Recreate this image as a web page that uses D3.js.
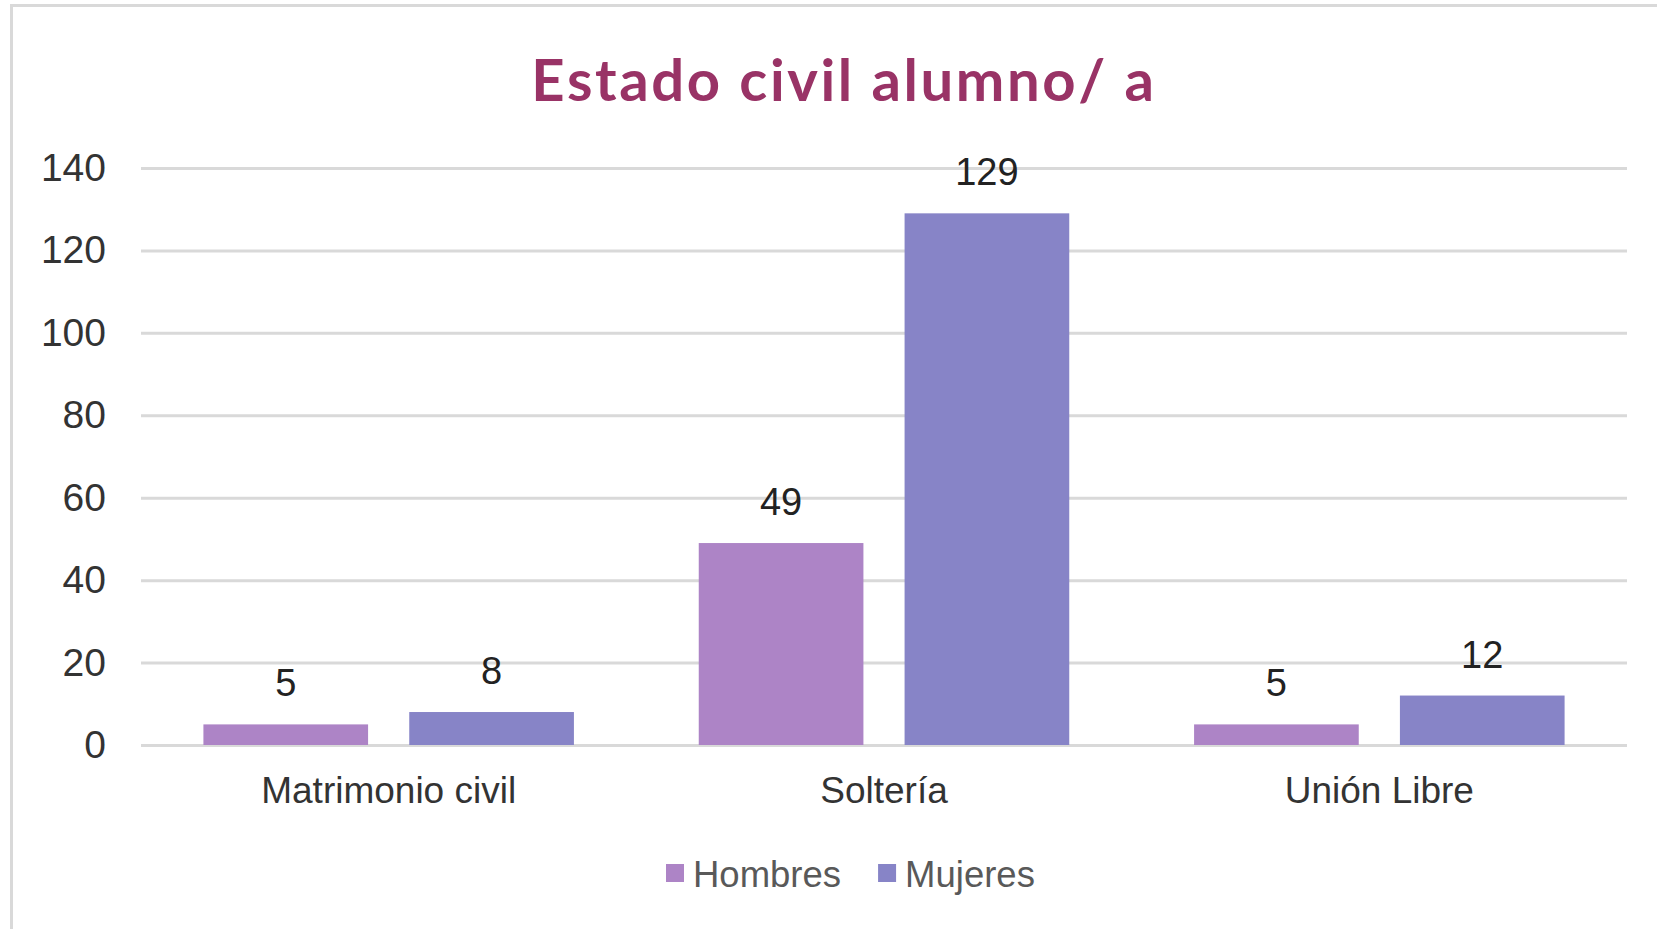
<!DOCTYPE html>
<html>
<head>
<meta charset="utf-8">
<script src="https://cdn.jsdelivr.net/npm/d3@7"></script>
<style>
  html, body { margin: 0; padding: 0; background: #fff; overflow: hidden; }
  svg { display: block; }
</style>
</head>
<body>
<div id="chart-container"></div>
<script>
// data
const categories = ["Matrimonio civil", "Soltería", "Unión Libre"];
const seriesNames = ["Hombres", "Mujeres"];
const hombres = [5, 49, 5];
const mujeres = [8, 129, 12];
const yTicks = [0, 20, 40, 60, 80, 100, 120, 140];
const colors = ["#AD84C6", "#8784C7"];

const W = 1657, H = 929;
const margin = { top: 168, right: 30, bottom: 184, left: 141 };
const width = W - margin.left - margin.right;
const height = H - margin.top - margin.bottom;

const svg = d3.select("#chart-container")
    .append("svg")
    .attr("width", W)
    .attr("height", H);

// outer chart border (runs off the right and bottom edges)
svg.append("rect")
    .attr("x", 11.5).attr("y", 5.5)
    .attr("width", W + 50).attr("height", H + 50)
    .attr("fill", "#fff")
    .attr("stroke", "#d9d9d9")
    .attr("stroke-width", 3);

// title
svg.append("text")
    .attr("x", 844)
    .attr("y", 101)
    .attr("text-anchor", "middle")
    .attr("font-family", "Lato, 'Open Sans', sans-serif")
    .attr("font-weight", 700)
    .attr("font-size", 58)
    .attr("letter-spacing", 2.6)
    .attr("fill", "#993366")
    .text("Estado civil alumno/ a");

const g = svg.append("g")
    .attr("transform", `translate(${margin.left},${margin.top})`);

// scales
const x0 = d3.scaleBand()
    .domain(categories)
    .range([0, width])
    .padding(0);

const x1 = d3.scaleBand()
    .domain(seriesNames)
    .range([x0.bandwidth() * 0.126, x0.bandwidth() * 0.874])
    .paddingInner(0.2);

const yScale = d3.scaleLinear()
    .domain([0, 140])
    .range([height, 0]);

// y axis + gridlines
const yAxis = g.append("g")
    .call(d3.axisLeft(yScale).tickValues(yTicks).tickSize(-width).tickPadding(35));
yAxis.select(".domain").remove();
yAxis.selectAll(".tick line")
    .attr("stroke", "#d9d9d9")
    .attr("stroke-width", 3);
yAxis.selectAll(".tick text")
    .attr("font-family", "'Liberation Sans', Arial, sans-serif")
    .attr("font-size", 39)
    .attr("fill", "#333");

// x axis
const xAxis = g.append("g")
    .attr("transform", `translate(0,${height})`)
    .call(d3.axisBottom(x0).tickSize(0).tickPadding(32));
xAxis.select(".domain").remove();
xAxis.selectAll(".tick text")
    .attr("font-family", "'Liberation Sans', Arial, sans-serif")
    .attr("font-size", 37)
    .attr("fill", "#333");

// bars
const rows = categories.map((c, i) => ({
    cat: c,
    vals: [
        { key: seriesNames[0], value: hombres[i] },
        { key: seriesNames[1], value: mujeres[i] }
    ]
}));

const groups = g.selectAll(".group")
    .data(rows)
    .enter()
    .append("g")
    .attr("class", "group")
    .attr("transform", d => `translate(${x0(d.cat)},0)`);

groups.selectAll("rect")
    .data(d => d.vals)
    .enter()
    .append("rect")
    .attr("x", d => x1(d.key))
    .attr("width", x1.bandwidth())
    .attr("y", d => yScale(d.value))
    .attr("height", d => height - yScale(d.value))
    .attr("fill", (d, i) => colors[i]);

// data labels
groups.selectAll(".label")
    .data(d => d.vals)
    .enter()
    .append("text")
    .attr("class", "label")
    .attr("x", d => x1(d.key) + x1.bandwidth() / 2)
    .attr("y", d => yScale(d.value) - 28)
    .attr("text-anchor", "middle")
    .attr("font-family", "'Liberation Sans', Arial, sans-serif")
    .attr("font-size", 38)
    .attr("fill", "#222")
    .text(d => d.value);

// legend
const legend = svg.append("g").attr("transform", "translate(666,0)");
let lx = 0;
seriesNames.forEach((name, i) => {
    legend.append("rect")
        .attr("x", lx).attr("y", 864)
        .attr("width", 18).attr("height", 18)
        .attr("fill", colors[i]);
    const t = legend.append("text")
        .attr("x", lx + 27)
        .attr("y", 887)
        .attr("font-family", "'Liberation Sans', Arial, sans-serif")
        .attr("font-size", 36.5)
        .attr("fill", "#595959")
        .text(name);
    lx += 27 + t.node().getComputedTextLength() + 37;
});
</script>
</body>
</html>
